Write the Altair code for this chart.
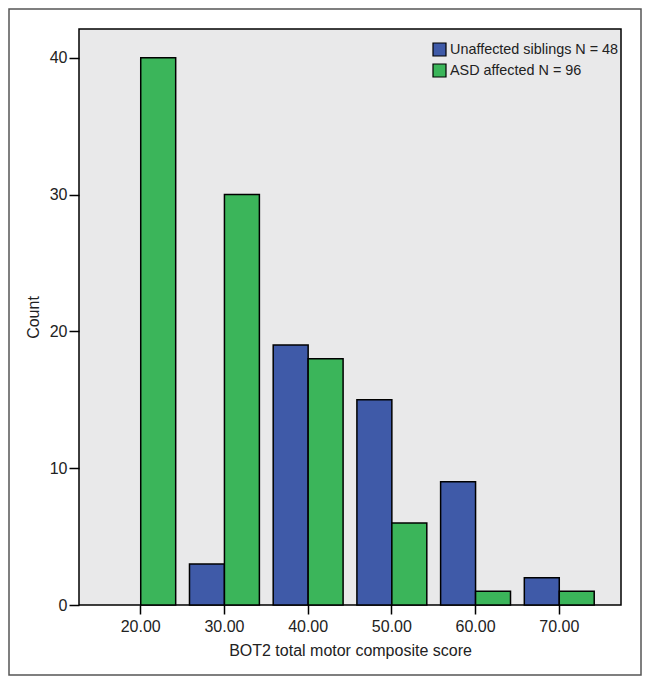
import altair as alt
import pandas as pd

scores = ["20.00", "30.00", "40.00", "50.00", "60.00", "70.00"]
unaffected = [0, 3, 19, 15, 9, 2]
asd = [40, 30, 18, 6, 1, 1]
groups = ["Unaffected siblings N = 48", "ASD affected N = 96"]
colors = ["#3f5aa8", "#3bb55a"]

rows = []
for s, u, a in zip(scores, unaffected, asd):
    rows.append({"score": s, "group": groups[0], "count": u})
    rows.append({"score": s, "group": groups[1], "count": a})
df = pd.DataFrame(rows)

FONT = "Liberation Sans"
FS = 16

bars = alt.Chart(df).transform_filter("datum.count > 0").mark_bar(
    stroke="black", strokeWidth=1.5
).encode(
    x=alt.X("score:N", sort=scores,
            scale=alt.Scale(paddingInner=0.165, paddingOuter=0.32),
            axis=alt.Axis(title="BOT2 total motor composite score", labelAngle=0,
                          tickSize=9, tickWidth=1.5, tickColor="black", domain=False,
                          labelFontSize=FS, titleFontSize=FS, labelColor="#222",
                          titleColor="#222", labelPadding=4, titlePadding=8,
                          titleFontWeight="normal")),
    xOffset=alt.XOffset("group:N", sort=groups,
                        scale=alt.Scale(domain=groups, paddingInner=0, paddingOuter=0)),
    y=alt.Y("count:Q", scale=alt.Scale(domain=[0, 42.1], nice=False),
            axis=alt.Axis(title="Count", values=[0, 10, 20, 30, 40], grid=False,
                          tickSize=10, tickWidth=1.5, tickColor="black", domain=False,
                          labelFontSize=FS, titleFontSize=FS, labelColor="#222",
                          titleColor="#222", labelPadding=2, titlePadding=8,
                          titleFontWeight="normal")),
    color=alt.Color("group:N", sort=groups,
                    scale=alt.Scale(domain=groups, range=colors),
                    legend=alt.Legend(title=None, orient="none", legendX=353, legendY=13,
                                      symbolType="square", symbolSize=169,
                                      symbolStrokeColor="black", symbolStrokeWidth=1.2,
                                      labelFontSize=14.4, labelColor="#222", rowPadding=2,
                                      labelOffset=3, symbolOpacity=1, labelLimit=0)),
)

frame = alt.Chart(pd.DataFrame({"a": [0]})).mark_rect(
    fill="transparent", stroke="#555", strokeWidth=1.5, clip=False
).encode(x=alt.value(-70), x2=alt.value(562), y=alt.value(-20), y2=alt.value(646))

chart = alt.layer(frame, bars).properties(
    width=542, height=576,
    autosize=alt.AutoSizeParams(type="none"),
    padding={"left": 71, "top": 21, "right": 22, "bottom": 72},
).configure(
    font=FONT, background="white",
    view=alt.ViewConfig(fill="#e9e9ea", stroke="black", strokeWidth=1.5),
)

chart.save("out.html", embed_options={"renderer": "svg", "actions": False})
